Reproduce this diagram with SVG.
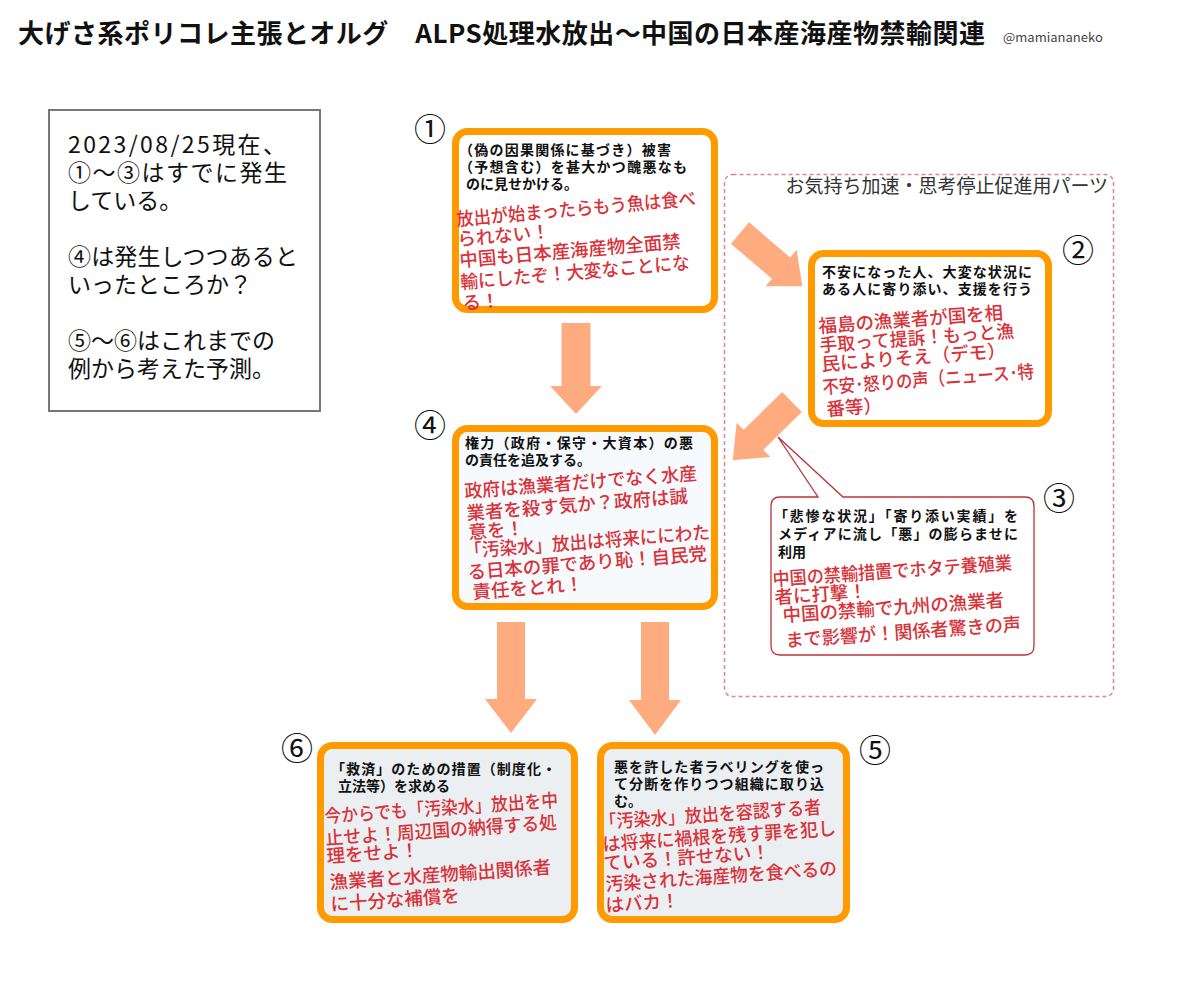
<svg xmlns="http://www.w3.org/2000/svg" width="1200" height="1008" viewBox="0 0 1200 1008">
<style>
text{font-family:"Noto Sans CJK JP","Noto Sans",sans-serif;}
.box{stroke:#FF9A00;stroke-width:7;}
.hdr{font-size:14px;font-weight:700;fill:#111;}
.red{font-size:18.5px;font-weight:500;fill:#D8333A;}
.num{font-size:32px;fill:#111;text-anchor:middle;}
.arrow{fill:#FFAB80;}
.note{font-size:23px;fill:#111;}
</style>
<rect width="1200" height="1008" fill="#ffffff"/>

<g id="title">
<text x="18" y="43" font-size="26" font-weight="700" fill="#111" textLength="967" lengthAdjust="spacing">大げさ系ポリコレ主張とオルグ　ALPS処理水放出～中国の日本産海産物禁輸関連</text>
<text x="1003" y="42" font-size="13" fill="#444">@mamiananeko</text>
</g>

<g id="note">
<rect x="49" y="110" width="271" height="301" fill="#fff" stroke="#777" stroke-width="2"/>
<text class="note" x="68" y="153" textLength="218" lengthAdjust="spacing">2023/08/25現在、</text>
<text class="note" x="68" y="181" textLength="219" lengthAdjust="spacing">①～③はすでに発生</text>
<text class="note" x="68" y="209">している。</text>
<text class="note" x="68" y="265" textLength="230" lengthAdjust="spacing">④は発生しつつあると</text>
<text class="note" x="68" y="293">いったところか？</text>
<text class="note" x="68" y="349">⑤～⑥はこれまでの</text>
<text class="note" x="68" y="377">例から考えた予測。</text>
</g>

<g id="group-parts">
<rect x="724.5" y="174.5" width="389" height="522" rx="8" fill="none" stroke="#D8888E" stroke-width="1.5" stroke-dasharray="4 3"/>
<text x="1108" y="193" font-size="19" fill="#333" text-anchor="end">お気持ち加速・思考停止促進用パーツ</text>
</g>

<g id="connectors">
<path class="arrow" d="M561.5,323 H590.5 V386 H602 L576,414 L550,386 H561.5 Z"/>
<path class="arrow" d="M0,-14 H54 V-24 L82,0 L54,24 V14 H0 Z" transform="translate(740,233) rotate(40.5)"/>
<path class="arrow" d="M0,-14 H54 V-24 L83,0 L54,24 V14 H0 Z" transform="translate(792,402) rotate(135.5)"/>
<path class="arrow" d="M497,622 H525 V699 H537 L511,733 L485,699 H497 Z"/>
<path class="arrow" d="M641,622 H669 V700 H681 L655,735 L629,700 H641 Z"/>
</g>

<g id="node1">
<rect class="box" x="455.5" y="131.5" width="259" height="178" rx="12" fill="#fff"/>
<text class="num" x="430" y="141">①</text>
<text class="hdr" x="459" y="155" textLength="212" lengthAdjust="spacing">（偽の因果関係に基づき）被害</text>
<text class="hdr" x="459" y="172" textLength="228" lengthAdjust="spacing">（予想含む）を甚大かつ醜悪なも</text>
<text class="hdr" x="466" y="189">のに見せかける。</text>
<text class="red" x="457" y="226" transform="rotate(-5 457 226)" textLength="240" lengthAdjust="spacingAndGlyphs">放出が始まったらもう魚は食べ</text>
<text class="red" x="458" y="246" transform="rotate(-5 458 246)">られない！</text>
<text class="red" x="460" y="267" transform="rotate(-5 460 267)">中国も日本産海産物全面禁</text>
<text class="red" x="461" y="289" transform="rotate(-5 461 289)" textLength="230" lengthAdjust="spacingAndGlyphs">輸にしたぞ！大変なことにな</text>
<text class="red" x="463" y="310" transform="rotate(-5 463 310)">る！</text>
</g>

<g id="node2">
<rect class="box" x="811.5" y="253.5" width="237" height="170" rx="12" fill="#fff"/>
<text class="num" x="1078" y="262">②</text>
<text class="hdr" x="822" y="277" textLength="210" lengthAdjust="spacing">不安になった人、大変な状況に</text>
<text class="hdr" x="822" y="294" textLength="210" lengthAdjust="spacing">ある人に寄り添い、支援を行う</text>
<text class="red" x="819" y="333" transform="rotate(-4.3 819 333)">福島の漁業者が国を相</text>
<text class="red" x="820" y="352" transform="rotate(-4.3 820 352)" textLength="195" lengthAdjust="spacingAndGlyphs">手取って提訴！もっと漁</text>
<text class="red" x="822" y="371" transform="rotate(-4.3 822 371)">民によりそえ（デモ）</text>
<text class="red" x="823" y="394" transform="rotate(-4.3 823 394)" textLength="212" lengthAdjust="spacingAndGlyphs">不安･怒りの声（ニュース･特</text>
<text class="red" x="827" y="416" transform="rotate(-4.3 827 416)">番等）</text>
</g>

<g id="node3">
<path d="M780,497 H818 L778,437 L843,497 H1025 Q1034,497 1034,506 V646 Q1034,655 1025,655 H780 Q771,655 771,646 V506 Q771,497 780,497 Z" fill="#fff" stroke="#B8343A" stroke-width="1.3"/>
<text class="num" x="1059" y="510">③</text>
<text class="hdr" x="774" y="521" textLength="244" lengthAdjust="spacing">「悲惨な状況」「寄り添い実績」を</text>
<text class="hdr" x="778" y="539" textLength="240" lengthAdjust="spacing">メディアに流し「悪」の膨らませに</text>
<text class="hdr" x="778" y="557">利用</text>
<text class="red" x="773" y="586" transform="rotate(-4 773 586)" textLength="240" lengthAdjust="spacingAndGlyphs">中国の禁輸措置でホタテ養殖業</text>
<text class="red" x="775" y="604" transform="rotate(-4 775 604)">者に打撃！</text>
<text class="red" x="783" y="622" transform="rotate(-4 783 622)">中国の禁輸で九州の漁業者</text>
<text class="red" x="786" y="647" transform="rotate(-4 786 647)" textLength="236" lengthAdjust="spacingAndGlyphs">まで影響が！関係者驚きの声</text>
</g>

<g id="node4">
<rect class="box" x="455.5" y="428.5" width="259" height="178" rx="12" fill="#F6FAFD"/>
<text class="num" x="430" y="437">④</text>
<text class="hdr" x="465" y="448" textLength="228" lengthAdjust="spacing">権力（政府・保守・大資本）の悪</text>
<text class="hdr" x="465" y="465">の責任を追及する。</text>
<text class="red" x="465" y="498" transform="rotate(-4.5 465 498)" textLength="233" lengthAdjust="spacingAndGlyphs">政府は漁業者だけでなく水産</text>
<text class="red" x="467" y="520" transform="rotate(-4.5 467 520)">業者を殺す気か？政府は誠</text>
<text class="red" x="469" y="539" transform="rotate(-4.5 469 539)">意を！</text>
<text class="red" x="465" y="558" transform="rotate(-4.5 465 558)" textLength="246" lengthAdjust="spacingAndGlyphs">「汚染水」放出は将来ににわた</text>
<text class="red" x="468" y="579" transform="rotate(-4.5 468 579)" textLength="240" lengthAdjust="spacingAndGlyphs">る日本の罪であり恥！自民党</text>
<text class="red" x="473" y="599" transform="rotate(-4.5 473 599)">責任をとれ！</text>
</g>

<g id="node6">
<rect class="box" x="320.5" y="745.5" width="254" height="174" rx="12" fill="#ECEFF2"/>
<text class="num" x="297" y="760">⑥</text>
<text class="hdr" x="331" y="774" textLength="225" lengthAdjust="spacing">「救済」のための措置（制度化・</text>
<text class="hdr" x="338" y="791">立法等）を求める</text>
<text class="red" x="325" y="823" transform="rotate(-4 325 823)" textLength="234" lengthAdjust="spacingAndGlyphs">今からでも「汚染水」放出を中</text>
<text class="red" x="326" y="845" transform="rotate(-4 326 845)" textLength="232" lengthAdjust="spacingAndGlyphs">止せよ！周辺国の納得する処</text>
<text class="red" x="327" y="863" transform="rotate(-4 327 863)">理をせよ！</text>
<text class="red" x="330" y="889" transform="rotate(-4 330 889)">漁業者と水産物輸出関係者</text>
<text class="red" x="331" y="911" transform="rotate(-4 331 911)">に十分な補償を</text>
</g>

<g id="node5">
<rect class="box" x="600.5" y="745.5" width="246" height="174" rx="12" fill="#ECEFF2"/>
<text class="num" x="875" y="762">⑤</text>
<text class="hdr" x="614" y="772" textLength="210" lengthAdjust="spacing">悪を許した者ラベリングを使っ</text>
<text class="hdr" x="614" y="789" textLength="210" lengthAdjust="spacing">て分断を作りつつ組織に取り込</text>
<text class="hdr" x="614" y="806">む。</text>
<text class="red" x="600" y="829" transform="rotate(-4 600 829)" textLength="222" lengthAdjust="spacingAndGlyphs">「汚染水」放出を容認する者</text>
<text class="red" x="603" y="851" transform="rotate(-4 603 851)" textLength="234" lengthAdjust="spacingAndGlyphs">は将来に禍根を残す罪を犯し</text>
<text class="red" x="604" y="870" transform="rotate(-4 604 870)">ている！許せない！</text>
<text class="red" x="606" y="891" transform="rotate(-4 606 891)" textLength="232" lengthAdjust="spacingAndGlyphs">汚染された海産物を食べるの</text>
<text class="red" x="606" y="912" transform="rotate(-4 606 912)">はバカ！</text>
</g>
</svg>
